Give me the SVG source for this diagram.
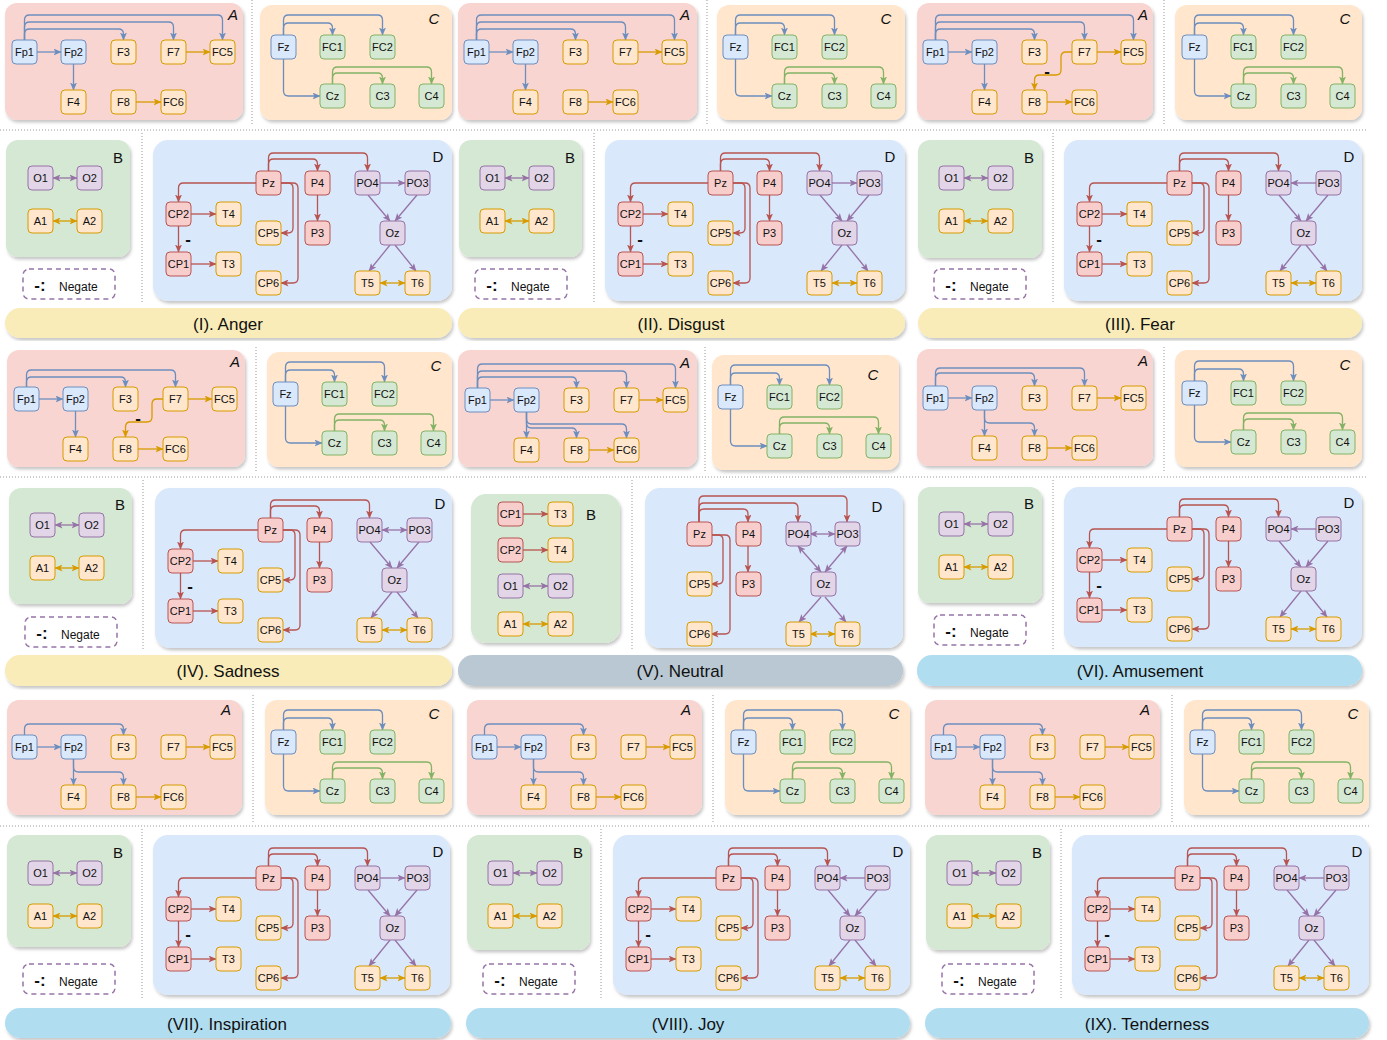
<svg xmlns="http://www.w3.org/2000/svg" width="1387" height="1040" viewBox="0 0 1387 1040">
<style>
text{font-family:"Liberation Sans",Arial,sans-serif;fill:#111}
.n text{font-size:11px;text-anchor:middle}
.n rect{stroke-width:1}
.b rect{fill:#dae8fc;stroke:#6c8ebf}
.o rect{fill:#ffe6cc;stroke:#d79b00}
.g rect{fill:#d5e8d4;stroke:#82b366}
.r rect{fill:#f8cecc;stroke:#b85450}
.p rect{fill:#e1d5e7;stroke:#9673a6}
.e path{fill:none;stroke-width:1.3}
.e .eb{stroke:#6c8ebf;marker-end:url(#mb)}
.e .eo{stroke:#d79b00;marker-end:url(#mo)}
.e .eg{stroke:#82b366;marker-end:url(#mg)}
.e .er{stroke:#b85450;marker-end:url(#mr)}
.e .ep{stroke:#9673a6;marker-end:url(#mp)}
.e .eo2{stroke:#d79b00;marker-end:url(#mo);marker-start:url(#mo)}
.e .ep2{stroke:#9673a6;marker-end:url(#mp);marker-start:url(#mp)}
.bA{fill:#f8d5d1;filter:url(#sh)}
.bB{fill:#d5e8d4;filter:url(#sh)}
.bC{fill:#ffe6cc;filter:url(#sh)}
.bD{fill:#dae8fc;filter:url(#sh)}
.sl{font-size:15px;text-anchor:middle}
.it{font-style:italic}
.ng{fill:none;stroke:#9673a6;stroke-width:1.5;stroke-dasharray:5 4}
.nl{font-size:17px;font-weight:bold;text-anchor:middle}
.nt{font-size:12px}
.sep{stroke:#999;stroke-width:1;stroke-dasharray:1 2;fill:none}
.bar rect{filter:url(#sh)}
.bar text{font-size:17px;text-anchor:middle}
.yl{fill:#f9ecb8}
.gy{fill:#bac8d3}
.bl{fill:#b1ddf0}
</style>
<defs>
<filter id="sh" x="-5%" y="-5%" width="110%" height="115%"><feDropShadow dx="1.5" dy="2.5" stdDeviation="1.5" flood-color="#000" flood-opacity="0.22"/></filter>
<marker id="mb" viewBox="0 0 8 7" refX="7.5" refY="3.5" markerWidth="8" markerHeight="7" markerUnits="userSpaceOnUse" orient="auto-start-reverse"><path d="M0,0L8,3.5L0,7L2,3.5z" fill="#6c8ebf"/></marker>
<marker id="mo" viewBox="0 0 8 7" refX="7.5" refY="3.5" markerWidth="8" markerHeight="7" markerUnits="userSpaceOnUse" orient="auto-start-reverse"><path d="M0,0L8,3.5L0,7L2,3.5z" fill="#d79b00"/></marker>
<marker id="mg" viewBox="0 0 8 7" refX="7.5" refY="3.5" markerWidth="8" markerHeight="7" markerUnits="userSpaceOnUse" orient="auto-start-reverse"><path d="M0,0L8,3.5L0,7L2,3.5z" fill="#82b366"/></marker>
<marker id="mr" viewBox="0 0 8 7" refX="7.5" refY="3.5" markerWidth="8" markerHeight="7" markerUnits="userSpaceOnUse" orient="auto-start-reverse"><path d="M0,0L8,3.5L0,7L2,3.5z" fill="#b85450"/></marker>
<marker id="mp" viewBox="0 0 8 7" refX="7.5" refY="3.5" markerWidth="8" markerHeight="7" markerUnits="userSpaceOnUse" orient="auto-start-reverse"><path d="M0,0L8,3.5L0,7L2,3.5z" fill="#9673a6"/></marker>
</defs>
<rect width="1387" height="1040" fill="#fff"/>

<g id="separators">
<path class="sep" d="M0 130H1366M252 0V126M707 0V126M1164 0V126M142 133V304M594 133V304M1053 133V304"/>
<path class="sep" d="M0 477H1366M256 347V473M705 347V473M1164 347V473M143 480V650M632 480V650M1053 480V650"/>
<path class="sep" d="M0 826H1370M253 695V822M713 695V822M1172 695V822M142 829V1000M601 829V1000M1061 829V1000"/>
</g>

<g id="bars" class="bar">
<g id="bar-I"><rect class="yl" x="5" y="308" width="447" height="30" rx="15"/><text x="228" y="330">(I). Anger</text></g>
<g id="bar-II"><rect class="yl" x="458" y="308" width="447" height="30" rx="15"/><text x="681" y="330">(II). Disgust</text></g>
<g id="bar-III"><rect class="yl" x="918" y="308" width="444" height="30" rx="15"/><text x="1140" y="330">(III). Fear</text></g>
<g id="bar-IV"><rect class="yl" x="5" y="655" width="447" height="31" rx="15"/><text x="228" y="677">(IV). Sadness</text></g>
<g id="bar-V"><rect class="gy" x="458" y="655" width="445" height="31" rx="15"/><text x="680" y="677">(V). Neutral</text></g>
<g id="bar-VI"><rect class="bl" x="917" y="655" width="445" height="31" rx="15"/><text x="1140" y="677">(VI). Amusement</text></g>
<g id="bar-VII"><rect class="bl" x="5" y="1008" width="446" height="30" rx="15"/><text x="227" y="1030">(VII). Inspiration</text></g>
<g id="bar-VIII"><rect class="bl" x="466" y="1008" width="444" height="30" rx="15"/><text x="688" y="1030">(VIII). Joy</text></g>
<g id="bar-IX"><rect class="bl" x="925" y="1008" width="444" height="30" rx="15"/><text x="1147" y="1030">(IX). Tenderness</text></g>
</g>

<!-- ================= PANEL I ================= -->
<g id="panel-I">
<g id="I-A">
<rect class="bA" x="5" y="3" width="238" height="117" rx="12"/><text class="sl it" x="233" y="20">A</text>
<g class="e" id="I-A-edges">
<path class="eb" d="M24.5 40V20Q24.5 15 29.5 15H217.5Q222.5 15 222.5 20V40"/>
<path class="eb" d="M24.5 40V27Q24.5 22 29.5 22H168.5Q173.5 22 173.5 27V40"/>
<path class="eb" d="M24.5 40V34Q24.5 29 29.5 29H118.5Q123.5 29 123.5 34V40"/>
<path class="eb" d="M37 52H61"/><path class="eb" d="M73.5 64V90"/>
<path class="eo" d="M186 52H210"/><path class="eo" d="M136 102H161"/>
</g>
<g id="I-Fp1" class="n b"><rect x="12" y="40" width="25" height="24" rx="4"/><text x="24.5" y="56">Fp1</text></g>
<g id="I-Fp2" class="n b"><rect x="61" y="40" width="25" height="24" rx="4"/><text x="73.5" y="56">Fp2</text></g>
<g id="I-F3" class="n o"><rect x="111" y="40" width="25" height="24" rx="4"/><text x="123.5" y="56">F3</text></g>
<g id="I-F7" class="n o"><rect x="161" y="40" width="25" height="24" rx="4"/><text x="173.5" y="56">F7</text></g>
<g id="I-FC5" class="n o"><rect x="210" y="40" width="25" height="24" rx="4"/><text x="222.5" y="56">FC5</text></g>
<g id="I-F4" class="n o"><rect x="61" y="90" width="25" height="24" rx="4"/><text x="73.5" y="106">F4</text></g>
<g id="I-F8" class="n o"><rect x="111" y="90" width="25" height="24" rx="4"/><text x="123.5" y="106">F8</text></g>
<g id="I-FC6" class="n o"><rect x="161" y="90" width="25" height="24" rx="4"/><text x="173.5" y="106">FC6</text></g>
</g>
<g id="I-C">
<rect class="bC" x="260" y="5" width="192" height="115" rx="12"/><text class="sl it" x="434" y="24">C</text>
<g class="e" id="I-C-edges">
<path class="eb" d="M283.5 35V20Q283.5 15 288.5 15H377.5Q382.5 15 382.5 20V35"/>
<path class="eb" d="M283.5 35V28Q283.5 23 288.5 23H327.5Q332.5 23 332.5 28V35"/>
<path class="eb" d="M283.5 59V91Q283.5 96 288.5 96H320"/>
<path class="eg" d="M332.5 84V72Q332.5 67 337.5 67H426.5Q431.5 67 431.5 72V84"/>
<path class="eg" d="M332.5 84V78Q332.5 73 337.5 73H377.5Q382.5 73 382.5 78V84"/>
</g>
<g id="I-Fz" class="n b"><rect x="271" y="35" width="25" height="24" rx="4"/><text x="283.5" y="51">Fz</text></g>
<g id="I-FC1" class="n g"><rect x="320" y="35" width="25" height="24" rx="4"/><text x="332.5" y="51">FC1</text></g>
<g id="I-FC2" class="n g"><rect x="370" y="35" width="25" height="24" rx="4"/><text x="382.5" y="51">FC2</text></g>
<g id="I-Cz" class="n g"><rect x="320" y="84" width="25" height="24" rx="4"/><text x="332.5" y="100">Cz</text></g>
<g id="I-C3" class="n g"><rect x="370" y="84" width="25" height="24" rx="4"/><text x="382.5" y="100">C3</text></g>
<g id="I-C4" class="n g"><rect x="419" y="84" width="25" height="24" rx="4"/><text x="431.5" y="100">C4</text></g>
</g>
<g id="I-B">
<rect class="bB" x="6" y="140" width="124" height="117" rx="12"/><text class="sl" x="118" y="163">B</text>
<g class="e" id="I-B-edges"><path class="ep2" d="M53 178H77"/><path class="eo2" d="M53 221H77"/></g>
<g id="I-O1" class="n p"><rect x="28" y="166" width="25" height="24" rx="4"/><text x="40.5" y="182">O1</text></g>
<g id="I-O2" class="n p"><rect x="77" y="166" width="25" height="24" rx="4"/><text x="89.5" y="182">O2</text></g>
<g id="I-A1" class="n o"><rect x="28" y="209" width="25" height="24" rx="4"/><text x="40.5" y="225">A1</text></g>
<g id="I-A2" class="n o"><rect x="77" y="209" width="25" height="24" rx="4"/><text x="89.5" y="225">A2</text></g>
<g id="I-legend"><rect class="ng" x="23" y="269" width="92" height="30" rx="6"/><text class="nl" x="40" y="291">-:</text><text class="nt" x="59" y="291">Negate</text></g>
</g>
<g id="I-D">
<rect class="bD" x="153" y="140" width="299" height="161" rx="15"/><text class="sl" x="438" y="162">D</text>
<g class="e" id="I-D-edges">
<path class="er" d="M268.5 171V158Q268.5 153 273.5 153H362.5Q367.5 153 367.5 158V171"/>
<path class="er" d="M268.5 171V164Q268.5 159 273.5 159H312.5Q317.5 159 317.5 164V171"/>
<path class="er" d="M256 183H183.5Q178.5 183 178.5 188V202"/>
<path class="er" d="M281 183H288Q293 183 293 188V228Q293 233 288 233H281"/>
<path class="er" d="M281 183H293Q298 183 298 188V278Q298 283 293 283H281"/>
<path class="er" d="M317.5 195V221"/><path class="er" d="M191 214H216"/><path class="er" d="M178.5 226V252"/><path class="er" d="M191 264H216"/>
<path class="ep" d="M380 183H405"/><path class="ep" d="M368 195L390 221"/><path class="ep" d="M417 195L395 221"/><path class="ep" d="M390 245L369 271"/><path class="ep" d="M395 245L416 271"/>
<path class="eo2" d="M380 283H405"/>
<text class="nl" x="188" y="245">-</text>
</g>
<g id="I-Pz" class="n r"><rect x="256" y="171" width="25" height="24" rx="4"/><text x="268.5" y="187">Pz</text></g>
<g id="I-P4" class="n r"><rect x="305" y="171" width="25" height="24" rx="4"/><text x="317.5" y="187">P4</text></g>
<g id="I-PO4" class="n p"><rect x="355" y="171" width="25" height="24" rx="4"/><text x="367.5" y="187">PO4</text></g>
<g id="I-PO3" class="n p"><rect x="405" y="171" width="25" height="24" rx="4"/><text x="417.5" y="187">PO3</text></g>
<g id="I-CP2" class="n r"><rect x="166" y="202" width="25" height="24" rx="4"/><text x="178.5" y="218">CP2</text></g>
<g id="I-T4" class="n o"><rect x="216" y="202" width="25" height="24" rx="4"/><text x="228.5" y="218">T4</text></g>
<g id="I-CP5" class="n o"><rect x="256" y="221" width="25" height="24" rx="4"/><text x="268.5" y="237">CP5</text></g>
<g id="I-P3" class="n r"><rect x="305" y="221" width="25" height="24" rx="4"/><text x="317.5" y="237">P3</text></g>
<g id="I-Oz" class="n p"><rect x="380" y="221" width="25" height="24" rx="4"/><text x="392.5" y="237">Oz</text></g>
<g id="I-CP1" class="n r"><rect x="166" y="252" width="25" height="24" rx="4"/><text x="178.5" y="268">CP1</text></g>
<g id="I-T3" class="n o"><rect x="216" y="252" width="25" height="24" rx="4"/><text x="228.5" y="268">T3</text></g>
<g id="I-CP6" class="n o"><rect x="256" y="271" width="25" height="24" rx="4"/><text x="268.5" y="287">CP6</text></g>
<g id="I-T5" class="n o"><rect x="355" y="271" width="25" height="24" rx="4"/><text x="367.5" y="287">T5</text></g>
<g id="I-T6" class="n o"><rect x="405" y="271" width="25" height="24" rx="4"/><text x="417.5" y="287">T6</text></g>
</g>
</g>

<!-- ================= PANEL II ================= -->
<g id="panel-II" transform="translate(452,0)">
<g id="II-A">
<rect class="bA" x="6" y="3" width="239" height="117" rx="12"/><text class="sl it" x="233" y="20">A</text>
<g class="e" id="II-A-edges">
<path class="eb" d="M24.5 40V20Q24.5 15 29.5 15H217.5Q222.5 15 222.5 20V40"/>
<path class="eb" d="M24.5 40V27Q24.5 22 29.5 22H168.5Q173.5 22 173.5 27V40"/>
<path class="eb" d="M24.5 40V34Q24.5 29 29.5 29H118.5Q123.5 29 123.5 34V40"/>
<path class="eb" d="M37 52H61"/><path class="eb" d="M73.5 64V90"/>
<path class="eo" d="M186 52H210"/><path class="eo" d="M136 102H161"/>
</g>
<g id="II-Fp1" class="n b"><rect x="12" y="40" width="25" height="24" rx="4"/><text x="24.5" y="56">Fp1</text></g>
<g id="II-Fp2" class="n b"><rect x="61" y="40" width="25" height="24" rx="4"/><text x="73.5" y="56">Fp2</text></g>
<g id="II-F3" class="n o"><rect x="111" y="40" width="25" height="24" rx="4"/><text x="123.5" y="56">F3</text></g>
<g id="II-F7" class="n o"><rect x="161" y="40" width="25" height="24" rx="4"/><text x="173.5" y="56">F7</text></g>
<g id="II-FC5" class="n o"><rect x="210" y="40" width="25" height="24" rx="4"/><text x="222.5" y="56">FC5</text></g>
<g id="II-F4" class="n o"><rect x="61" y="90" width="25" height="24" rx="4"/><text x="73.5" y="106">F4</text></g>
<g id="II-F8" class="n o"><rect x="111" y="90" width="25" height="24" rx="4"/><text x="123.5" y="106">F8</text></g>
<g id="II-FC6" class="n o"><rect x="161" y="90" width="25" height="24" rx="4"/><text x="173.5" y="106">FC6</text></g>
</g>
<g id="II-C">
<rect class="bC" x="265" y="5" width="188" height="115" rx="12"/><text class="sl it" x="434" y="24">C</text>
<g class="e" id="II-C-edges">
<path class="eb" d="M283.5 35V20Q283.5 15 288.5 15H377.5Q382.5 15 382.5 20V35"/>
<path class="eb" d="M283.5 35V28Q283.5 23 288.5 23H327.5Q332.5 23 332.5 28V35"/>
<path class="eb" d="M283.5 59V91Q283.5 96 288.5 96H320"/>
<path class="eg" d="M332.5 84V72Q332.5 67 337.5 67H426.5Q431.5 67 431.5 72V84"/>
<path class="eg" d="M332.5 84V78Q332.5 73 337.5 73H377.5Q382.5 73 382.5 78V84"/>
</g>
<g id="II-Fz" class="n b"><rect x="271" y="35" width="25" height="24" rx="4"/><text x="283.5" y="51">Fz</text></g>
<g id="II-FC1" class="n g"><rect x="320" y="35" width="25" height="24" rx="4"/><text x="332.5" y="51">FC1</text></g>
<g id="II-FC2" class="n g"><rect x="370" y="35" width="25" height="24" rx="4"/><text x="382.5" y="51">FC2</text></g>
<g id="II-Cz" class="n g"><rect x="320" y="84" width="25" height="24" rx="4"/><text x="332.5" y="100">Cz</text></g>
<g id="II-C3" class="n g"><rect x="370" y="84" width="25" height="24" rx="4"/><text x="382.5" y="100">C3</text></g>
<g id="II-C4" class="n g"><rect x="419" y="84" width="25" height="24" rx="4"/><text x="431.5" y="100">C4</text></g>
</g>
<g id="II-B">
<rect class="bB" x="7" y="140" width="123" height="117" rx="12"/><text class="sl" x="118" y="163">B</text>
<g class="e" id="II-B-edges"><path class="ep2" d="M53 178H77"/><path class="eo2" d="M53 221H77"/></g>
<g id="II-O1" class="n p"><rect x="28" y="166" width="25" height="24" rx="4"/><text x="40.5" y="182">O1</text></g>
<g id="II-O2" class="n p"><rect x="77" y="166" width="25" height="24" rx="4"/><text x="89.5" y="182">O2</text></g>
<g id="II-A1" class="n o"><rect x="28" y="209" width="25" height="24" rx="4"/><text x="40.5" y="225">A1</text></g>
<g id="II-A2" class="n o"><rect x="77" y="209" width="25" height="24" rx="4"/><text x="89.5" y="225">A2</text></g>
<g id="II-legend"><rect class="ng" x="23" y="269" width="92" height="30" rx="6"/><text class="nl" x="40" y="291">-:</text><text class="nt" x="59" y="291">Negate</text></g>
</g>
<g id="II-D">
<rect class="bD" x="153" y="140" width="300" height="161" rx="15"/><text class="sl" x="438" y="162">D</text>
<g class="e" id="II-D-edges">
<path class="er" d="M268.5 171V158Q268.5 153 273.5 153H362.5Q367.5 153 367.5 158V171"/>
<path class="er" d="M268.5 171V164Q268.5 159 273.5 159H312.5Q317.5 159 317.5 164V171"/>
<path class="er" d="M256 183H183.5Q178.5 183 178.5 188V202"/>
<path class="er" d="M281 183H288Q293 183 293 188V228Q293 233 288 233H281"/>
<path class="er" d="M281 183H293Q298 183 298 188V278Q298 283 293 283H281"/>
<path class="er" d="M317.5 195V221"/><path class="er" d="M191 214H216"/><path class="er" d="M178.5 226V252"/><path class="er" d="M191 264H216"/>
<path class="ep" d="M380 183H405"/><path class="ep" d="M368 195L390 221"/><path class="ep" d="M417 195L395 221"/><path class="ep" d="M390 245L369 271"/><path class="ep" d="M395 245L416 271"/>
<path class="eo2" d="M380 283H405"/>
<text class="nl" x="188" y="245">-</text>
</g>
<g id="II-Pz" class="n r"><rect x="256" y="171" width="25" height="24" rx="4"/><text x="268.5" y="187">Pz</text></g>
<g id="II-P4" class="n r"><rect x="305" y="171" width="25" height="24" rx="4"/><text x="317.5" y="187">P4</text></g>
<g id="II-PO4" class="n p"><rect x="355" y="171" width="25" height="24" rx="4"/><text x="367.5" y="187">PO4</text></g>
<g id="II-PO3" class="n p"><rect x="405" y="171" width="25" height="24" rx="4"/><text x="417.5" y="187">PO3</text></g>
<g id="II-CP2" class="n r"><rect x="166" y="202" width="25" height="24" rx="4"/><text x="178.5" y="218">CP2</text></g>
<g id="II-T4" class="n o"><rect x="216" y="202" width="25" height="24" rx="4"/><text x="228.5" y="218">T4</text></g>
<g id="II-CP5" class="n o"><rect x="256" y="221" width="25" height="24" rx="4"/><text x="268.5" y="237">CP5</text></g>
<g id="II-P3" class="n r"><rect x="305" y="221" width="25" height="24" rx="4"/><text x="317.5" y="237">P3</text></g>
<g id="II-Oz" class="n p"><rect x="380" y="221" width="25" height="24" rx="4"/><text x="392.5" y="237">Oz</text></g>
<g id="II-CP1" class="n r"><rect x="166" y="252" width="25" height="24" rx="4"/><text x="178.5" y="268">CP1</text></g>
<g id="II-T3" class="n o"><rect x="216" y="252" width="25" height="24" rx="4"/><text x="228.5" y="268">T3</text></g>
<g id="II-CP6" class="n o"><rect x="256" y="271" width="25" height="24" rx="4"/><text x="268.5" y="287">CP6</text></g>
<g id="II-T5" class="n o"><rect x="355" y="271" width="25" height="24" rx="4"/><text x="367.5" y="287">T5</text></g>
<g id="II-T6" class="n o"><rect x="405" y="271" width="25" height="24" rx="4"/><text x="417.5" y="287">T6</text></g>
</g>
</g>

<!-- ================= PANEL III ================= -->
<g id="panel-III" transform="translate(911,0)">
<g id="III-A">
<rect class="bA" x="6" y="3" width="236" height="117" rx="12"/><text class="sl it" x="232" y="20">A</text>
<g class="e" id="III-A-edges">
<path class="eb" d="M24.5 40V20Q24.5 15 29.5 15H217.5Q222.5 15 222.5 20V40"/>
<path class="eb" d="M24.5 40V27Q24.5 22 29.5 22H168.5Q173.5 22 173.5 27V40"/>
<path class="eb" d="M24.5 40V34Q24.5 29 29.5 29H118.5Q123.5 29 123.5 34V40"/>
<path class="eb" d="M37 52H61"/><path class="eb" d="M73.5 64V90"/>
<path class="eo" d="M186 52H210"/><path class="eo" d="M136 102H161"/>
<path class="eo" d="M161 52H155Q150 52 150 57V70Q150 75 145 75H128.5Q123.5 75 123.5 80V90"/>
<text class="nl" x="136" y="77">-</text>
</g>
<g id="III-Fp1" class="n b"><rect x="12" y="40" width="25" height="24" rx="4"/><text x="24.5" y="56">Fp1</text></g>
<g id="III-Fp2" class="n b"><rect x="61" y="40" width="25" height="24" rx="4"/><text x="73.5" y="56">Fp2</text></g>
<g id="III-F3" class="n o"><rect x="111" y="40" width="25" height="24" rx="4"/><text x="123.5" y="56">F3</text></g>
<g id="III-F7" class="n o"><rect x="161" y="40" width="25" height="24" rx="4"/><text x="173.5" y="56">F7</text></g>
<g id="III-FC5" class="n o"><rect x="210" y="40" width="25" height="24" rx="4"/><text x="222.5" y="56">FC5</text></g>
<g id="III-F4" class="n o"><rect x="61" y="90" width="25" height="24" rx="4"/><text x="73.5" y="106">F4</text></g>
<g id="III-F8" class="n o"><rect x="111" y="90" width="25" height="24" rx="4"/><text x="123.5" y="106">F8</text></g>
<g id="III-FC6" class="n o"><rect x="161" y="90" width="25" height="24" rx="4"/><text x="173.5" y="106">FC6</text></g>
</g>
<g id="III-C">
<rect class="bC" x="264" y="5" width="187" height="115" rx="12"/><text class="sl it" x="434" y="24">C</text>
<g class="e" id="III-C-edges">
<path class="eb" d="M283.5 35V20Q283.5 15 288.5 15H377.5Q382.5 15 382.5 20V35"/>
<path class="eb" d="M283.5 35V28Q283.5 23 288.5 23H327.5Q332.5 23 332.5 28V35"/>
<path class="eb" d="M283.5 59V91Q283.5 96 288.5 96H320"/>
<path class="eg" d="M332.5 84V72Q332.5 67 337.5 67H426.5Q431.5 67 431.5 72V84"/>
<path class="eg" d="M332.5 84V78Q332.5 73 337.5 73H377.5Q382.5 73 382.5 78V84"/>
</g>
<g id="III-Fz" class="n b"><rect x="271" y="35" width="25" height="24" rx="4"/><text x="283.5" y="51">Fz</text></g>
<g id="III-FC1" class="n g"><rect x="320" y="35" width="25" height="24" rx="4"/><text x="332.5" y="51">FC1</text></g>
<g id="III-FC2" class="n g"><rect x="370" y="35" width="25" height="24" rx="4"/><text x="382.5" y="51">FC2</text></g>
<g id="III-Cz" class="n g"><rect x="320" y="84" width="25" height="24" rx="4"/><text x="332.5" y="100">Cz</text></g>
<g id="III-C3" class="n g"><rect x="370" y="84" width="25" height="24" rx="4"/><text x="382.5" y="100">C3</text></g>
<g id="III-C4" class="n g"><rect x="419" y="84" width="25" height="24" rx="4"/><text x="431.5" y="100">C4</text></g>
</g>
<g id="III-B">
<rect class="bB" x="7" y="140" width="124" height="118" rx="12"/><text class="sl" x="118" y="163">B</text>
<g class="e" id="III-B-edges"><path class="ep2" d="M53 178H77"/><path class="eo2" d="M53 221H77"/></g>
<g id="III-O1" class="n p"><rect x="28" y="166" width="25" height="24" rx="4"/><text x="40.5" y="182">O1</text></g>
<g id="III-O2" class="n p"><rect x="77" y="166" width="25" height="24" rx="4"/><text x="89.5" y="182">O2</text></g>
<g id="III-A1" class="n o"><rect x="28" y="209" width="25" height="24" rx="4"/><text x="40.5" y="225">A1</text></g>
<g id="III-A2" class="n o"><rect x="77" y="209" width="25" height="24" rx="4"/><text x="89.5" y="225">A2</text></g>
<g id="III-legend"><rect class="ng" x="23" y="269" width="92" height="30" rx="6"/><text class="nl" x="40" y="291">-:</text><text class="nt" x="59" y="291">Negate</text></g>
</g>
<g id="III-D">
<rect class="bD" x="153" y="140" width="298" height="161" rx="15"/><text class="sl" x="438" y="162">D</text>
<g class="e" id="III-D-edges">
<path class="er" d="M268.5 171V158Q268.5 153 273.5 153H362.5Q367.5 153 367.5 158V171"/>
<path class="er" d="M268.5 171V164Q268.5 159 273.5 159H312.5Q317.5 159 317.5 164V171"/>
<path class="er" d="M256 183H183.5Q178.5 183 178.5 188V202"/>
<path class="er" d="M281 183H288Q293 183 293 188V228Q293 233 288 233H281"/>
<path class="er" d="M281 183H293Q298 183 298 188V278Q298 283 293 283H281"/>
<path class="er" d="M317.5 195V221"/><path class="er" d="M191 214H216"/><path class="er" d="M178.5 226V252"/><path class="er" d="M191 264H216"/>
<path class="ep" d="M405 183H380"/><path class="ep" d="M368 195L390 221"/><path class="ep" d="M417 195L395 221"/><path class="ep" d="M390 245L369 271"/><path class="ep" d="M395 245L416 271"/>
<path class="eo2" d="M380 283H405"/>
<text class="nl" x="188" y="245">-</text>
</g>
<g id="III-Pz" class="n r"><rect x="256" y="171" width="25" height="24" rx="4"/><text x="268.5" y="187">Pz</text></g>
<g id="III-P4" class="n r"><rect x="305" y="171" width="25" height="24" rx="4"/><text x="317.5" y="187">P4</text></g>
<g id="III-PO4" class="n p"><rect x="355" y="171" width="25" height="24" rx="4"/><text x="367.5" y="187">PO4</text></g>
<g id="III-PO3" class="n p"><rect x="405" y="171" width="25" height="24" rx="4"/><text x="417.5" y="187">PO3</text></g>
<g id="III-CP2" class="n r"><rect x="166" y="202" width="25" height="24" rx="4"/><text x="178.5" y="218">CP2</text></g>
<g id="III-T4" class="n o"><rect x="216" y="202" width="25" height="24" rx="4"/><text x="228.5" y="218">T4</text></g>
<g id="III-CP5" class="n o"><rect x="256" y="221" width="25" height="24" rx="4"/><text x="268.5" y="237">CP5</text></g>
<g id="III-P3" class="n r"><rect x="305" y="221" width="25" height="24" rx="4"/><text x="317.5" y="237">P3</text></g>
<g id="III-Oz" class="n p"><rect x="380" y="221" width="25" height="24" rx="4"/><text x="392.5" y="237">Oz</text></g>
<g id="III-CP1" class="n r"><rect x="166" y="252" width="25" height="24" rx="4"/><text x="178.5" y="268">CP1</text></g>
<g id="III-T3" class="n o"><rect x="216" y="252" width="25" height="24" rx="4"/><text x="228.5" y="268">T3</text></g>
<g id="III-CP6" class="n o"><rect x="256" y="271" width="25" height="24" rx="4"/><text x="268.5" y="287">CP6</text></g>
<g id="III-T5" class="n o"><rect x="355" y="271" width="25" height="24" rx="4"/><text x="367.5" y="287">T5</text></g>
<g id="III-T6" class="n o"><rect x="405" y="271" width="25" height="24" rx="4"/><text x="417.5" y="287">T6</text></g>
</g>
</g>

<!-- ================= PANEL IV ================= -->
<g id="panel-IV" transform="translate(2,347)">
<g id="IV-A">
<rect class="bA" x="5" y="3" width="238" height="117" rx="12"/><text class="sl it" x="233" y="20">A</text>
<g class="e" id="IV-A-edges">
<path class="eb" d="M24.5 40V28Q24.5 23 29.5 23H168.5Q173.5 23 173.5 28V40"/>
<path class="eb" d="M24.5 40V35Q24.5 30 29.5 30H118.5Q123.5 30 123.5 35V40"/>
<path class="eb" d="M37 52H61"/><path class="eb" d="M73.5 64V90"/>
<path class="eo" d="M186 52H210"/><path class="eo" d="M136 102H161"/>
<path class="eo" d="M161 52H155Q150 52 150 57V70Q150 75 145 75H128.5Q123.5 75 123.5 80V90"/>
<text class="nl" x="136" y="77">-</text>
</g>
<g id="IV-Fp1" class="n b"><rect x="12" y="40" width="25" height="24" rx="4"/><text x="24.5" y="56">Fp1</text></g>
<g id="IV-Fp2" class="n b"><rect x="61" y="40" width="25" height="24" rx="4"/><text x="73.5" y="56">Fp2</text></g>
<g id="IV-F3" class="n o"><rect x="111" y="40" width="25" height="24" rx="4"/><text x="123.5" y="56">F3</text></g>
<g id="IV-F7" class="n o"><rect x="161" y="40" width="25" height="24" rx="4"/><text x="173.5" y="56">F7</text></g>
<g id="IV-FC5" class="n o"><rect x="210" y="40" width="25" height="24" rx="4"/><text x="222.5" y="56">FC5</text></g>
<g id="IV-F4" class="n o"><rect x="61" y="90" width="25" height="24" rx="4"/><text x="73.5" y="106">F4</text></g>
<g id="IV-F8" class="n o"><rect x="111" y="90" width="25" height="24" rx="4"/><text x="123.5" y="106">F8</text></g>
<g id="IV-FC6" class="n o"><rect x="161" y="90" width="25" height="24" rx="4"/><text x="173.5" y="106">FC6</text></g>
</g>
<g id="IV-C">
<rect class="bC" x="265" y="5" width="185" height="115" rx="12"/><text class="sl it" x="434" y="24">C</text>
<g class="e" id="IV-C-edges">
<path class="eb" d="M283.5 35V20Q283.5 15 288.5 15H377.5Q382.5 15 382.5 20V35"/>
<path class="eb" d="M283.5 35V28Q283.5 23 288.5 23H327.5Q332.5 23 332.5 28V35"/>
<path class="eb" d="M283.5 59V91Q283.5 96 288.5 96H320"/>
<path class="eg" d="M332.5 84V72Q332.5 67 337.5 67H426.5Q431.5 67 431.5 72V84"/>
<path class="eg" d="M332.5 84V78Q332.5 73 337.5 73H377.5Q382.5 73 382.5 78V84"/>
</g>
<g id="IV-Fz" class="n b"><rect x="271" y="35" width="25" height="24" rx="4"/><text x="283.5" y="51">Fz</text></g>
<g id="IV-FC1" class="n g"><rect x="320" y="35" width="25" height="24" rx="4"/><text x="332.5" y="51">FC1</text></g>
<g id="IV-FC2" class="n g"><rect x="370" y="35" width="25" height="24" rx="4"/><text x="382.5" y="51">FC2</text></g>
<g id="IV-Cz" class="n g"><rect x="320" y="84" width="25" height="24" rx="4"/><text x="332.5" y="100">Cz</text></g>
<g id="IV-C3" class="n g"><rect x="370" y="84" width="25" height="24" rx="4"/><text x="382.5" y="100">C3</text></g>
<g id="IV-C4" class="n g"><rect x="419" y="84" width="25" height="24" rx="4"/><text x="431.5" y="100">C4</text></g>
</g>
<g id="IV-B">
<rect class="bB" x="7" y="141" width="123" height="116" rx="12"/><text class="sl" x="118" y="163">B</text>
<g class="e" id="IV-B-edges"><path class="ep2" d="M53 178H77"/><path class="eo2" d="M53 221H77"/></g>
<g id="IV-O1" class="n p"><rect x="28" y="166" width="25" height="24" rx="4"/><text x="40.5" y="182">O1</text></g>
<g id="IV-O2" class="n p"><rect x="77" y="166" width="25" height="24" rx="4"/><text x="89.5" y="182">O2</text></g>
<g id="IV-A1" class="n o"><rect x="28" y="209" width="25" height="24" rx="4"/><text x="40.5" y="225">A1</text></g>
<g id="IV-A2" class="n o"><rect x="77" y="209" width="25" height="24" rx="4"/><text x="89.5" y="225">A2</text></g>
<g id="IV-legend"><rect class="ng" x="23" y="270" width="92" height="30" rx="6"/><text class="nl" x="40" y="292">-:</text><text class="nt" x="59" y="292">Negate</text></g>
</g>
<g id="IV-D">
<rect class="bD" x="153" y="141" width="297" height="160" rx="15"/><text class="sl" x="438" y="162">D</text>
<g class="e" id="IV-D-edges">
<path class="er" d="M268.5 171V158Q268.5 153 273.5 153H362.5Q367.5 153 367.5 158V171"/>
<path class="er" d="M268.5 171V164Q268.5 159 273.5 159H312.5Q317.5 159 317.5 164V171"/>
<path class="er" d="M256 183H183.5Q178.5 183 178.5 188V202"/>
<path class="er" d="M281 183H288Q293 183 293 188V228Q293 233 288 233H281"/>
<path class="er" d="M281 183H293Q298 183 298 188V278Q298 283 293 283H281"/>
<path class="er" d="M317.5 195V221"/><path class="er" d="M191 214H216"/><path class="er" d="M178.5 226V252"/><path class="er" d="M191 264H216"/>
<path class="ep2" d="M380 183H405"/><path class="ep" d="M368 195L390 221"/><path class="ep" d="M417 195L395 221"/><path class="ep" d="M390 245L369 271"/><path class="ep" d="M395 245L416 271"/>
<path class="eo2" d="M380 283H405"/>
<text class="nl" x="188" y="245">-</text>
</g>
<g id="IV-Pz" class="n r"><rect x="256" y="171" width="25" height="24" rx="4"/><text x="268.5" y="187">Pz</text></g>
<g id="IV-P4" class="n r"><rect x="305" y="171" width="25" height="24" rx="4"/><text x="317.5" y="187">P4</text></g>
<g id="IV-PO4" class="n p"><rect x="355" y="171" width="25" height="24" rx="4"/><text x="367.5" y="187">PO4</text></g>
<g id="IV-PO3" class="n p"><rect x="405" y="171" width="25" height="24" rx="4"/><text x="417.5" y="187">PO3</text></g>
<g id="IV-CP2" class="n r"><rect x="166" y="202" width="25" height="24" rx="4"/><text x="178.5" y="218">CP2</text></g>
<g id="IV-T4" class="n o"><rect x="216" y="202" width="25" height="24" rx="4"/><text x="228.5" y="218">T4</text></g>
<g id="IV-CP5" class="n o"><rect x="256" y="221" width="25" height="24" rx="4"/><text x="268.5" y="237">CP5</text></g>
<g id="IV-P3" class="n r"><rect x="305" y="221" width="25" height="24" rx="4"/><text x="317.5" y="237">P3</text></g>
<g id="IV-Oz" class="n p"><rect x="380" y="221" width="25" height="24" rx="4"/><text x="392.5" y="237">Oz</text></g>
<g id="IV-CP1" class="n r"><rect x="166" y="252" width="25" height="24" rx="4"/><text x="178.5" y="268">CP1</text></g>
<g id="IV-T3" class="n o"><rect x="216" y="252" width="25" height="24" rx="4"/><text x="228.5" y="268">T3</text></g>
<g id="IV-CP6" class="n o"><rect x="256" y="271" width="25" height="24" rx="4"/><text x="268.5" y="287">CP6</text></g>
<g id="IV-T5" class="n o"><rect x="355" y="271" width="25" height="24" rx="4"/><text x="367.5" y="287">T5</text></g>
<g id="IV-T6" class="n o"><rect x="405" y="271" width="25" height="24" rx="4"/><text x="417.5" y="287">T6</text></g>
</g>
</g>

<!-- ================= PANEL V ================= -->
<g id="panel-V">
<g id="V-A" transform="translate(453,348)">
<rect class="bA" x="5" y="2" width="239" height="117" rx="12"/><text class="sl it" x="232" y="20">A</text>
<g class="e" id="V-A-edges">
<path class="eb" d="M24.5 40V21Q24.5 16 29.5 16H217.5Q222.5 16 222.5 21V40"/>
<path class="eb" d="M24.5 40V28Q24.5 23 29.5 23H168.5Q173.5 23 173.5 28V40"/>
<path class="eb" d="M24.5 40V34Q24.5 29 29.5 29H118.5Q123.5 29 123.5 34V40"/>
<path class="eb" d="M37 52H61"/><path class="eb" d="M73.5 64V90"/>
<path class="eb" d="M73.5 64V71Q73.5 76 78.5 76H168.5Q173.5 76 173.5 81V90"/>
<path class="eb" d="M73.5 64V75Q73.5 80 78.5 80H118.5Q123.5 80 123.5 85V90"/>
<path class="eo" d="M186 52H210"/><path class="eo" d="M136 102H161"/>
</g>
<g id="V-Fp1" class="n b"><rect x="12" y="40" width="25" height="24" rx="4"/><text x="24.5" y="56">Fp1</text></g>
<g id="V-Fp2" class="n b"><rect x="61" y="40" width="25" height="24" rx="4"/><text x="73.5" y="56">Fp2</text></g>
<g id="V-F3" class="n o"><rect x="111" y="40" width="25" height="24" rx="4"/><text x="123.5" y="56">F3</text></g>
<g id="V-F7" class="n o"><rect x="161" y="40" width="25" height="24" rx="4"/><text x="173.5" y="56">F7</text></g>
<g id="V-FC5" class="n o"><rect x="210" y="40" width="25" height="24" rx="4"/><text x="222.5" y="56">FC5</text></g>
<g id="V-F4" class="n o"><rect x="61" y="90" width="25" height="24" rx="4"/><text x="73.5" y="106">F4</text></g>
<g id="V-F8" class="n o"><rect x="111" y="90" width="25" height="24" rx="4"/><text x="123.5" y="106">F8</text></g>
<g id="V-FC6" class="n o"><rect x="161" y="90" width="25" height="24" rx="4"/><text x="173.5" y="106">FC6</text></g>
</g>
<g id="V-C" transform="translate(447,350)">
<rect class="bC" x="265" y="5" width="187" height="115" rx="12"/><text class="sl it" x="426" y="30">C</text>
<g class="e" id="V-C-edges">
<path class="eb" d="M283.5 35V20Q283.5 15 288.5 15H377.5Q382.5 15 382.5 20V35"/>
<path class="eb" d="M283.5 35V28Q283.5 23 288.5 23H327.5Q332.5 23 332.5 28V35"/>
<path class="eb" d="M283.5 59V91Q283.5 96 288.5 96H320"/>
<path class="eg" d="M332.5 84V72Q332.5 67 337.5 67H426.5Q431.5 67 431.5 72V84"/>
<path class="eg" d="M332.5 84V78Q332.5 73 337.5 73H377.5Q382.5 73 382.5 78V84"/>
</g>
<g id="V-Fz" class="n b"><rect x="271" y="35" width="25" height="24" rx="4"/><text x="283.5" y="51">Fz</text></g>
<g id="V-FC1" class="n g"><rect x="320" y="35" width="25" height="24" rx="4"/><text x="332.5" y="51">FC1</text></g>
<g id="V-FC2" class="n g"><rect x="370" y="35" width="25" height="24" rx="4"/><text x="382.5" y="51">FC2</text></g>
<g id="V-Cz" class="n g"><rect x="320" y="84" width="25" height="24" rx="4"/><text x="332.5" y="100">Cz</text></g>
<g id="V-C3" class="n g"><rect x="370" y="84" width="25" height="24" rx="4"/><text x="382.5" y="100">C3</text></g>
<g id="V-C4" class="n g"><rect x="419" y="84" width="25" height="24" rx="4"/><text x="431.5" y="100">C4</text></g>
</g>
<g id="V-B">
<rect class="bB" x="471" y="494" width="149" height="149" rx="15"/><text class="sl" x="591" y="520">B</text>
<g class="e" id="V-B-edges">
<path class="er" d="M523 514H548"/><path class="er" d="M523 550H548"/><path class="ep2" d="M523 586H548"/><path class="eo2" d="M523 624H548"/>
</g>
<g id="V-CP1" class="n r"><rect x="498" y="502" width="25" height="24" rx="4"/><text x="510.5" y="518">CP1</text></g>
<g id="V-T3" class="n o"><rect x="548" y="502" width="25" height="24" rx="4"/><text x="560.5" y="518">T3</text></g>
<g id="V-CP2" class="n r"><rect x="498" y="538" width="25" height="24" rx="4"/><text x="510.5" y="554">CP2</text></g>
<g id="V-T4" class="n o"><rect x="548" y="538" width="25" height="24" rx="4"/><text x="560.5" y="554">T4</text></g>
<g id="V-O1" class="n p"><rect x="498" y="574" width="25" height="24" rx="4"/><text x="510.5" y="590">O1</text></g>
<g id="V-O2" class="n p"><rect x="548" y="574" width="25" height="24" rx="4"/><text x="560.5" y="590">O2</text></g>
<g id="V-A1" class="n o"><rect x="498" y="612" width="25" height="24" rx="4"/><text x="510.5" y="628">A1</text></g>
<g id="V-A2" class="n o"><rect x="548" y="612" width="25" height="24" rx="4"/><text x="560.5" y="628">A2</text></g>
</g>
<g id="V-D">
<rect class="bD" x="645" y="488" width="258" height="160" rx="15"/><text class="sl" x="877" y="512">D</text>
<g class="e" id="V-D-edges">
<path class="er" d="M699 522V501Q699 496 704 496H842Q847 496 847 501V522"/>
<path class="er" d="M699 522V508Q699 503 704 503H793Q798 503 798 508V522"/>
<path class="er" d="M699 522V514Q699 509 704 509H743Q748 509 748 514V522"/>
<path class="er" d="M711 535H718Q723 535 723 540V579Q723 584 718 584H711"/>
<path class="er" d="M711 535H725Q730 535 730 540V629Q730 634 725 634H711"/>
<path class="er" d="M748 546V572"/>
<path class="ep2" d="M810 534H835"/><path class="ep2" d="M798 546L821 572"/><path class="ep2" d="M847 546L825 572"/>
<path class="ep" d="M821 597L799 622"/><path class="ep" d="M825 597L846 622"/>
<path class="eo2" d="M810 634H835"/>
</g>
<g id="V-Pz" class="n r"><rect x="687" y="522" width="25" height="24" rx="4"/><text x="699.5" y="538">Pz</text></g>
<g id="V-P4" class="n r"><rect x="736" y="522" width="25" height="24" rx="4"/><text x="748.5" y="538">P4</text></g>
<g id="V-PO4" class="n p"><rect x="786" y="522" width="25" height="24" rx="4"/><text x="798.5" y="538">PO4</text></g>
<g id="V-PO3" class="n p"><rect x="835" y="522" width="25" height="24" rx="4"/><text x="847.5" y="538">PO3</text></g>
<g id="V-CP5" class="n o"><rect x="687" y="572" width="25" height="24" rx="4"/><text x="699.5" y="588">CP5</text></g>
<g id="V-P3" class="n r"><rect x="736" y="572" width="25" height="24" rx="4"/><text x="748.5" y="588">P3</text></g>
<g id="V-Oz" class="n p"><rect x="811" y="572" width="25" height="24" rx="4"/><text x="823.5" y="588">Oz</text></g>
<g id="V-CP6" class="n o"><rect x="687" y="622" width="25" height="24" rx="4"/><text x="699.5" y="638">CP6</text></g>
<g id="V-T5" class="n o"><rect x="786" y="622" width="25" height="24" rx="4"/><text x="798.5" y="638">T5</text></g>
<g id="V-T6" class="n o"><rect x="835" y="622" width="25" height="24" rx="4"/><text x="847.5" y="638">T6</text></g>
</g>
</g>

<!-- ================= PANEL VI ================= -->
<g id="panel-VI" transform="translate(911,346)">
<g id="VI-A">
<rect class="bA" x="6" y="3" width="236" height="117" rx="12"/><text class="sl it" x="232" y="20">A</text>
<g class="e" id="VI-A-edges">
<path class="eb" d="M24.5 40V27Q24.5 22 29.5 22H168.5Q173.5 22 173.5 27V40"/>
<path class="eb" d="M24.5 40V32Q24.5 27 29.5 27H118.5Q123.5 27 123.5 32V40"/>
<path class="eb" d="M37 52H61"/><path class="eb" d="M73.5 64V90"/>
<path class="eb" d="M73.5 64V72Q73.5 77 78.5 77H118.5Q123.5 77 123.5 82V90"/>
<path class="eo" d="M186 52H210"/><path class="eo" d="M136 102H161"/>
</g>
<g id="VI-Fp1" class="n b"><rect x="12" y="40" width="25" height="24" rx="4"/><text x="24.5" y="56">Fp1</text></g>
<g id="VI-Fp2" class="n b"><rect x="61" y="40" width="25" height="24" rx="4"/><text x="73.5" y="56">Fp2</text></g>
<g id="VI-F3" class="n o"><rect x="111" y="40" width="25" height="24" rx="4"/><text x="123.5" y="56">F3</text></g>
<g id="VI-F7" class="n o"><rect x="161" y="40" width="25" height="24" rx="4"/><text x="173.5" y="56">F7</text></g>
<g id="VI-FC5" class="n o"><rect x="210" y="40" width="25" height="24" rx="4"/><text x="222.5" y="56">FC5</text></g>
<g id="VI-F4" class="n o"><rect x="61" y="90" width="25" height="24" rx="4"/><text x="73.5" y="106">F4</text></g>
<g id="VI-F8" class="n o"><rect x="111" y="90" width="25" height="24" rx="4"/><text x="123.5" y="106">F8</text></g>
<g id="VI-FC6" class="n o"><rect x="161" y="90" width="25" height="24" rx="4"/><text x="173.5" y="106">FC6</text></g>
</g>
<g id="VI-C">
<rect class="bC" x="264" y="4" width="187" height="117" rx="12"/><text class="sl it" x="434" y="24">C</text>
<g class="e" id="VI-C-edges">
<path class="eb" d="M283.5 35V20Q283.5 15 288.5 15H377.5Q382.5 15 382.5 20V35"/>
<path class="eb" d="M283.5 35V28Q283.5 23 288.5 23H327.5Q332.5 23 332.5 28V35"/>
<path class="eb" d="M283.5 59V91Q283.5 96 288.5 96H320"/>
<path class="eg" d="M332.5 84V72Q332.5 67 337.5 67H426.5Q431.5 67 431.5 72V84"/>
<path class="eg" d="M332.5 84V78Q332.5 73 337.5 73H377.5Q382.5 73 382.5 78V84"/>
</g>
<g id="VI-Fz" class="n b"><rect x="271" y="35" width="25" height="24" rx="4"/><text x="283.5" y="51">Fz</text></g>
<g id="VI-FC1" class="n g"><rect x="320" y="35" width="25" height="24" rx="4"/><text x="332.5" y="51">FC1</text></g>
<g id="VI-FC2" class="n g"><rect x="370" y="35" width="25" height="24" rx="4"/><text x="382.5" y="51">FC2</text></g>
<g id="VI-Cz" class="n g"><rect x="320" y="84" width="25" height="24" rx="4"/><text x="332.5" y="100">Cz</text></g>
<g id="VI-C3" class="n g"><rect x="370" y="84" width="25" height="24" rx="4"/><text x="382.5" y="100">C3</text></g>
<g id="VI-C4" class="n g"><rect x="419" y="84" width="25" height="24" rx="4"/><text x="431.5" y="100">C4</text></g>
</g>
<g id="VI-B">
<rect class="bB" x="7" y="141" width="124" height="116" rx="12"/><text class="sl" x="118" y="163">B</text>
<g class="e" id="VI-B-edges"><path class="ep2" d="M53 178H77"/><path class="eo2" d="M53 221H77"/></g>
<g id="VI-O1" class="n p"><rect x="28" y="166" width="25" height="24" rx="4"/><text x="40.5" y="182">O1</text></g>
<g id="VI-O2" class="n p"><rect x="77" y="166" width="25" height="24" rx="4"/><text x="89.5" y="182">O2</text></g>
<g id="VI-A1" class="n o"><rect x="28" y="209" width="25" height="24" rx="4"/><text x="40.5" y="225">A1</text></g>
<g id="VI-A2" class="n o"><rect x="77" y="209" width="25" height="24" rx="4"/><text x="89.5" y="225">A2</text></g>
<g id="VI-legend"><rect class="ng" x="23" y="269" width="92" height="30" rx="6"/><text class="nl" x="40" y="291">-:</text><text class="nt" x="59" y="291">Negate</text></g>
</g>
<g id="VI-D">
<rect class="bD" x="153" y="141" width="298" height="160" rx="15"/><text class="sl" x="438" y="162">D</text>
<g class="e" id="VI-D-edges">
<path class="er" d="M268.5 171V158Q268.5 153 273.5 153H362.5Q367.5 153 367.5 158V171"/>
<path class="er" d="M268.5 171V164Q268.5 159 273.5 159H312.5Q317.5 159 317.5 164V171"/>
<path class="er" d="M256 183H183.5Q178.5 183 178.5 188V202"/>
<path class="er" d="M281 183H288Q293 183 293 188V228Q293 233 288 233H281"/>
<path class="er" d="M281 183H293Q298 183 298 188V278Q298 283 293 283H281"/>
<path class="er" d="M317.5 195V221"/><path class="er" d="M191 214H216"/><path class="er" d="M178.5 226V252"/><path class="er" d="M191 264H216"/>
<path class="ep" d="M405 183H380"/><path class="ep" d="M368 195L390 221"/><path class="ep" d="M417 195L395 221"/><path class="ep" d="M390 245L369 271"/><path class="ep" d="M395 245L416 271"/>
<path class="eo2" d="M380 283H405"/>
<text class="nl" x="188" y="245">-</text>
</g>
<g id="VI-Pz" class="n r"><rect x="256" y="171" width="25" height="24" rx="4"/><text x="268.5" y="187">Pz</text></g>
<g id="VI-P4" class="n r"><rect x="305" y="171" width="25" height="24" rx="4"/><text x="317.5" y="187">P4</text></g>
<g id="VI-PO4" class="n p"><rect x="355" y="171" width="25" height="24" rx="4"/><text x="367.5" y="187">PO4</text></g>
<g id="VI-PO3" class="n p"><rect x="405" y="171" width="25" height="24" rx="4"/><text x="417.5" y="187">PO3</text></g>
<g id="VI-CP2" class="n r"><rect x="166" y="202" width="25" height="24" rx="4"/><text x="178.5" y="218">CP2</text></g>
<g id="VI-T4" class="n o"><rect x="216" y="202" width="25" height="24" rx="4"/><text x="228.5" y="218">T4</text></g>
<g id="VI-CP5" class="n o"><rect x="256" y="221" width="25" height="24" rx="4"/><text x="268.5" y="237">CP5</text></g>
<g id="VI-P3" class="n r"><rect x="305" y="221" width="25" height="24" rx="4"/><text x="317.5" y="237">P3</text></g>
<g id="VI-Oz" class="n p"><rect x="380" y="221" width="25" height="24" rx="4"/><text x="392.5" y="237">Oz</text></g>
<g id="VI-CP1" class="n r"><rect x="166" y="252" width="25" height="24" rx="4"/><text x="178.5" y="268">CP1</text></g>
<g id="VI-T3" class="n o"><rect x="216" y="252" width="25" height="24" rx="4"/><text x="228.5" y="268">T3</text></g>
<g id="VI-CP6" class="n o"><rect x="256" y="271" width="25" height="24" rx="4"/><text x="268.5" y="287">CP6</text></g>
<g id="VI-T5" class="n o"><rect x="355" y="271" width="25" height="24" rx="4"/><text x="367.5" y="287">T5</text></g>
<g id="VI-T6" class="n o"><rect x="405" y="271" width="25" height="24" rx="4"/><text x="417.5" y="287">T6</text></g>
</g>
</g>

<!-- ================= PANEL VII ================= -->
<g id="panel-VII" transform="translate(0,695)">
<g id="VII-A">
<rect class="bA" x="7" y="5" width="235" height="115" rx="12"/><text class="sl it" x="226" y="20">A</text>
<g class="e" id="VII-A-edges">
<path class="eb" d="M24.5 40V34Q24.5 29 29.5 29H118.5Q123.5 29 123.5 34V40"/>
<path class="eb" d="M37 52H61"/><path class="eb" d="M73.5 64V90"/>
<path class="eb" d="M73.5 64V72Q73.5 77 78.5 77H118.5Q123.5 77 123.5 82V90"/>
<path class="eo" d="M186 52H210"/><path class="eo" d="M136 102H161"/>
</g>
<g id="VII-Fp1" class="n b"><rect x="12" y="40" width="25" height="24" rx="4"/><text x="24.5" y="56">Fp1</text></g>
<g id="VII-Fp2" class="n b"><rect x="61" y="40" width="25" height="24" rx="4"/><text x="73.5" y="56">Fp2</text></g>
<g id="VII-F3" class="n o"><rect x="111" y="40" width="25" height="24" rx="4"/><text x="123.5" y="56">F3</text></g>
<g id="VII-F7" class="n o"><rect x="161" y="40" width="25" height="24" rx="4"/><text x="173.5" y="56">F7</text></g>
<g id="VII-FC5" class="n o"><rect x="210" y="40" width="25" height="24" rx="4"/><text x="222.5" y="56">FC5</text></g>
<g id="VII-F4" class="n o"><rect x="61" y="90" width="25" height="24" rx="4"/><text x="73.5" y="106">F4</text></g>
<g id="VII-F8" class="n o"><rect x="111" y="90" width="25" height="24" rx="4"/><text x="123.5" y="106">F8</text></g>
<g id="VII-FC6" class="n o"><rect x="161" y="90" width="25" height="24" rx="4"/><text x="173.5" y="106">FC6</text></g>
</g>
<g id="VII-C">
<rect class="bC" x="265" y="5" width="187" height="115" rx="12"/><text class="sl it" x="434" y="24">C</text>
<g class="e" id="VII-C-edges">
<path class="eb" d="M283.5 35V20Q283.5 15 288.5 15H377.5Q382.5 15 382.5 20V35"/>
<path class="eb" d="M283.5 35V28Q283.5 23 288.5 23H327.5Q332.5 23 332.5 28V35"/>
<path class="eb" d="M283.5 59V91Q283.5 96 288.5 96H320"/>
<path class="eg" d="M332.5 84V72Q332.5 67 337.5 67H426.5Q431.5 67 431.5 72V84"/>
<path class="eg" d="M332.5 84V78Q332.5 73 337.5 73H377.5Q382.5 73 382.5 78V84"/>
</g>
<g id="VII-Fz" class="n b"><rect x="271" y="35" width="25" height="24" rx="4"/><text x="283.5" y="51">Fz</text></g>
<g id="VII-FC1" class="n g"><rect x="320" y="35" width="25" height="24" rx="4"/><text x="332.5" y="51">FC1</text></g>
<g id="VII-FC2" class="n g"><rect x="370" y="35" width="25" height="24" rx="4"/><text x="382.5" y="51">FC2</text></g>
<g id="VII-Cz" class="n g"><rect x="320" y="84" width="25" height="24" rx="4"/><text x="332.5" y="100">Cz</text></g>
<g id="VII-C3" class="n g"><rect x="370" y="84" width="25" height="24" rx="4"/><text x="382.5" y="100">C3</text></g>
<g id="VII-C4" class="n g"><rect x="419" y="84" width="25" height="24" rx="4"/><text x="431.5" y="100">C4</text></g>
</g>
<g id="VII-B">
<rect class="bB" x="7" y="140" width="124" height="112" rx="12"/><text class="sl" x="118" y="163">B</text>
<g class="e" id="VII-B-edges"><path class="ep2" d="M53 178H77"/><path class="eo2" d="M53 221H77"/></g>
<g id="VII-O1" class="n p"><rect x="28" y="166" width="25" height="24" rx="4"/><text x="40.5" y="182">O1</text></g>
<g id="VII-O2" class="n p"><rect x="77" y="166" width="25" height="24" rx="4"/><text x="89.5" y="182">O2</text></g>
<g id="VII-A1" class="n o"><rect x="28" y="209" width="25" height="24" rx="4"/><text x="40.5" y="225">A1</text></g>
<g id="VII-A2" class="n o"><rect x="77" y="209" width="25" height="24" rx="4"/><text x="89.5" y="225">A2</text></g>
<g id="VII-legend"><rect class="ng" x="23" y="269" width="92" height="30" rx="6"/><text class="nl" x="40" y="291">-:</text><text class="nt" x="59" y="291">Negate</text></g>
</g>
<g id="VII-D">
<rect class="bD" x="153" y="140" width="297" height="160" rx="15"/><text class="sl" x="438" y="162">D</text>
<g class="e" id="VII-D-edges">
<path class="er" d="M268.5 171V158Q268.5 153 273.5 153H362.5Q367.5 153 367.5 158V171"/>
<path class="er" d="M268.5 171V164Q268.5 159 273.5 159H312.5Q317.5 159 317.5 164V171"/>
<path class="er" d="M256 183H183.5Q178.5 183 178.5 188V202"/>
<path class="er" d="M281 183H288Q293 183 293 188V228Q293 233 288 233H281"/>
<path class="er" d="M281 183H293Q298 183 298 188V278Q298 283 293 283H281"/>
<path class="er" d="M317.5 195V221"/><path class="er" d="M191 214H216"/><path class="er" d="M178.5 226V252"/><path class="er" d="M191 264H216"/>
<path class="ep" d="M380 183H405"/><path class="ep" d="M368 195L390 221"/><path class="ep" d="M417 195L395 221"/><path class="ep" d="M390 245L369 271"/><path class="ep" d="M395 245L416 271"/>
<path class="eo2" d="M380 283H405"/>
<text class="nl" x="188" y="245">-</text>
</g>
<g id="VII-Pz" class="n r"><rect x="256" y="171" width="25" height="24" rx="4"/><text x="268.5" y="187">Pz</text></g>
<g id="VII-P4" class="n r"><rect x="305" y="171" width="25" height="24" rx="4"/><text x="317.5" y="187">P4</text></g>
<g id="VII-PO4" class="n p"><rect x="355" y="171" width="25" height="24" rx="4"/><text x="367.5" y="187">PO4</text></g>
<g id="VII-PO3" class="n p"><rect x="405" y="171" width="25" height="24" rx="4"/><text x="417.5" y="187">PO3</text></g>
<g id="VII-CP2" class="n r"><rect x="166" y="202" width="25" height="24" rx="4"/><text x="178.5" y="218">CP2</text></g>
<g id="VII-T4" class="n o"><rect x="216" y="202" width="25" height="24" rx="4"/><text x="228.5" y="218">T4</text></g>
<g id="VII-CP5" class="n o"><rect x="256" y="221" width="25" height="24" rx="4"/><text x="268.5" y="237">CP5</text></g>
<g id="VII-P3" class="n r"><rect x="305" y="221" width="25" height="24" rx="4"/><text x="317.5" y="237">P3</text></g>
<g id="VII-Oz" class="n p"><rect x="380" y="221" width="25" height="24" rx="4"/><text x="392.5" y="237">Oz</text></g>
<g id="VII-CP1" class="n r"><rect x="166" y="252" width="25" height="24" rx="4"/><text x="178.5" y="268">CP1</text></g>
<g id="VII-T3" class="n o"><rect x="216" y="252" width="25" height="24" rx="4"/><text x="228.5" y="268">T3</text></g>
<g id="VII-CP6" class="n o"><rect x="256" y="271" width="25" height="24" rx="4"/><text x="268.5" y="287">CP6</text></g>
<g id="VII-T5" class="n o"><rect x="355" y="271" width="25" height="24" rx="4"/><text x="367.5" y="287">T5</text></g>
<g id="VII-T6" class="n o"><rect x="405" y="271" width="25" height="24" rx="4"/><text x="417.5" y="287">T6</text></g>
</g>
</g>

<!-- ================= PANEL VIII ================= -->
<g id="panel-VIII" transform="translate(460,695)">
<g id="VIII-A">
<rect class="bA" x="7" y="5" width="235" height="115" rx="12"/><text class="sl it" x="226" y="20">A</text>
<g class="e" id="VIII-A-edges">
<path class="eb" d="M24.5 40V34Q24.5 29 29.5 29H118.5Q123.5 29 123.5 34V40"/>
<path class="eb" d="M37 52H61"/><path class="eb" d="M73.5 64V90"/>
<path class="eb" d="M73.5 64V72Q73.5 77 78.5 77H118.5Q123.5 77 123.5 82V90"/>
<path class="eo" d="M186 52H210"/><path class="eo" d="M136 102H161"/>
</g>
<g id="VIII-Fp1" class="n b"><rect x="12" y="40" width="25" height="24" rx="4"/><text x="24.5" y="56">Fp1</text></g>
<g id="VIII-Fp2" class="n b"><rect x="61" y="40" width="25" height="24" rx="4"/><text x="73.5" y="56">Fp2</text></g>
<g id="VIII-F3" class="n o"><rect x="111" y="40" width="25" height="24" rx="4"/><text x="123.5" y="56">F3</text></g>
<g id="VIII-F7" class="n o"><rect x="161" y="40" width="25" height="24" rx="4"/><text x="173.5" y="56">F7</text></g>
<g id="VIII-FC5" class="n o"><rect x="210" y="40" width="25" height="24" rx="4"/><text x="222.5" y="56">FC5</text></g>
<g id="VIII-F4" class="n o"><rect x="61" y="90" width="25" height="24" rx="4"/><text x="73.5" y="106">F4</text></g>
<g id="VIII-F8" class="n o"><rect x="111" y="90" width="25" height="24" rx="4"/><text x="123.5" y="106">F8</text></g>
<g id="VIII-FC6" class="n o"><rect x="161" y="90" width="25" height="24" rx="4"/><text x="173.5" y="106">FC6</text></g>
</g>
<g id="VIII-C">
<rect class="bC" x="265" y="5" width="185" height="115" rx="12"/><text class="sl it" x="434" y="24">C</text>
<g class="e" id="VIII-C-edges">
<path class="eb" d="M283.5 35V20Q283.5 15 288.5 15H377.5Q382.5 15 382.5 20V35"/>
<path class="eb" d="M283.5 35V28Q283.5 23 288.5 23H327.5Q332.5 23 332.5 28V35"/>
<path class="eb" d="M283.5 59V91Q283.5 96 288.5 96H320"/>
<path class="eg" d="M332.5 84V72Q332.5 67 337.5 67H426.5Q431.5 67 431.5 72V84"/>
<path class="eg" d="M332.5 84V78Q332.5 73 337.5 73H377.5Q382.5 73 382.5 78V84"/>
</g>
<g id="VIII-Fz" class="n b"><rect x="271" y="35" width="25" height="24" rx="4"/><text x="283.5" y="51">Fz</text></g>
<g id="VIII-FC1" class="n g"><rect x="320" y="35" width="25" height="24" rx="4"/><text x="332.5" y="51">FC1</text></g>
<g id="VIII-FC2" class="n g"><rect x="370" y="35" width="25" height="24" rx="4"/><text x="382.5" y="51">FC2</text></g>
<g id="VIII-Cz" class="n g"><rect x="320" y="84" width="25" height="24" rx="4"/><text x="332.5" y="100">Cz</text></g>
<g id="VIII-C3" class="n g"><rect x="370" y="84" width="25" height="24" rx="4"/><text x="382.5" y="100">C3</text></g>
<g id="VIII-C4" class="n g"><rect x="419" y="84" width="25" height="24" rx="4"/><text x="431.5" y="100">C4</text></g>
</g>
<g id="VIII-B">
<rect class="bB" x="7" y="140" width="123" height="115" rx="12"/><text class="sl" x="118" y="163">B</text>
<g class="e" id="VIII-B-edges"><path class="ep2" d="M53 178H77"/><path class="eo2" d="M53 221H77"/></g>
<g id="VIII-O1" class="n p"><rect x="28" y="166" width="25" height="24" rx="4"/><text x="40.5" y="182">O1</text></g>
<g id="VIII-O2" class="n p"><rect x="77" y="166" width="25" height="24" rx="4"/><text x="89.5" y="182">O2</text></g>
<g id="VIII-A1" class="n o"><rect x="28" y="209" width="25" height="24" rx="4"/><text x="40.5" y="225">A1</text></g>
<g id="VIII-A2" class="n o"><rect x="77" y="209" width="25" height="24" rx="4"/><text x="89.5" y="225">A2</text></g>
<g id="VIII-legend"><rect class="ng" x="23" y="269" width="92" height="30" rx="6"/><text class="nl" x="40" y="291">-:</text><text class="nt" x="59" y="291">Negate</text></g>
</g>
<g id="VIII-D">
<rect class="bD" x="153" y="140" width="297" height="160" rx="15"/><text class="sl" x="438" y="162">D</text>
<g class="e" id="VIII-D-edges">
<path class="er" d="M268.5 171V158Q268.5 153 273.5 153H362.5Q367.5 153 367.5 158V171"/>
<path class="er" d="M268.5 171V164Q268.5 159 273.5 159H312.5Q317.5 159 317.5 164V171"/>
<path class="er" d="M256 183H183.5Q178.5 183 178.5 188V202"/>
<path class="er" d="M281 183H288Q293 183 293 188V228Q293 233 288 233H281"/>
<path class="er" d="M281 183H293Q298 183 298 188V278Q298 283 293 283H281"/>
<path class="er" d="M317.5 195V221"/><path class="er" d="M191 214H216"/><path class="er" d="M178.5 226V252"/><path class="er" d="M191 264H216"/>
<path class="ep" d="M405 183H380"/><path class="ep" d="M368 195L390 221"/><path class="ep" d="M417 195L395 221"/><path class="ep" d="M390 245L369 271"/><path class="ep" d="M395 245L416 271"/>
<path class="eo2" d="M380 283H405"/>
<text class="nl" x="188" y="245">-</text>
</g>
<g id="VIII-Pz" class="n r"><rect x="256" y="171" width="25" height="24" rx="4"/><text x="268.5" y="187">Pz</text></g>
<g id="VIII-P4" class="n r"><rect x="305" y="171" width="25" height="24" rx="4"/><text x="317.5" y="187">P4</text></g>
<g id="VIII-PO4" class="n p"><rect x="355" y="171" width="25" height="24" rx="4"/><text x="367.5" y="187">PO4</text></g>
<g id="VIII-PO3" class="n p"><rect x="405" y="171" width="25" height="24" rx="4"/><text x="417.5" y="187">PO3</text></g>
<g id="VIII-CP2" class="n r"><rect x="166" y="202" width="25" height="24" rx="4"/><text x="178.5" y="218">CP2</text></g>
<g id="VIII-T4" class="n o"><rect x="216" y="202" width="25" height="24" rx="4"/><text x="228.5" y="218">T4</text></g>
<g id="VIII-CP5" class="n o"><rect x="256" y="221" width="25" height="24" rx="4"/><text x="268.5" y="237">CP5</text></g>
<g id="VIII-P3" class="n r"><rect x="305" y="221" width="25" height="24" rx="4"/><text x="317.5" y="237">P3</text></g>
<g id="VIII-Oz" class="n p"><rect x="380" y="221" width="25" height="24" rx="4"/><text x="392.5" y="237">Oz</text></g>
<g id="VIII-CP1" class="n r"><rect x="166" y="252" width="25" height="24" rx="4"/><text x="178.5" y="268">CP1</text></g>
<g id="VIII-T3" class="n o"><rect x="216" y="252" width="25" height="24" rx="4"/><text x="228.5" y="268">T3</text></g>
<g id="VIII-CP6" class="n o"><rect x="256" y="271" width="25" height="24" rx="4"/><text x="268.5" y="287">CP6</text></g>
<g id="VIII-T5" class="n o"><rect x="355" y="271" width="25" height="24" rx="4"/><text x="367.5" y="287">T5</text></g>
<g id="VIII-T6" class="n o"><rect x="405" y="271" width="25" height="24" rx="4"/><text x="417.5" y="287">T6</text></g>
</g>
</g>

<!-- ================= PANEL IX ================= -->
<g id="panel-IX" transform="translate(919,695)">
<g id="IX-A">
<rect class="bA" x="6" y="5" width="235" height="115" rx="12"/><text class="sl it" x="226" y="20">A</text>
<g class="e" id="IX-A-edges">
<path class="eb" d="M24.5 40V34Q24.5 29 29.5 29H118.5Q123.5 29 123.5 34V40"/>
<path class="eb" d="M37 52H61"/><path class="eb" d="M73.5 64V90"/>
<path class="eb" d="M73.5 64V72Q73.5 77 78.5 77H118.5Q123.5 77 123.5 82V90"/>
<path class="eo" d="M186 52H210"/><path class="eo" d="M136 102H161"/>
</g>
<g id="IX-Fp1" class="n b"><rect x="12" y="40" width="25" height="24" rx="4"/><text x="24.5" y="56">Fp1</text></g>
<g id="IX-Fp2" class="n b"><rect x="61" y="40" width="25" height="24" rx="4"/><text x="73.5" y="56">Fp2</text></g>
<g id="IX-F3" class="n o"><rect x="111" y="40" width="25" height="24" rx="4"/><text x="123.5" y="56">F3</text></g>
<g id="IX-F7" class="n o"><rect x="161" y="40" width="25" height="24" rx="4"/><text x="173.5" y="56">F7</text></g>
<g id="IX-FC5" class="n o"><rect x="210" y="40" width="25" height="24" rx="4"/><text x="222.5" y="56">FC5</text></g>
<g id="IX-F4" class="n o"><rect x="61" y="90" width="25" height="24" rx="4"/><text x="73.5" y="106">F4</text></g>
<g id="IX-F8" class="n o"><rect x="111" y="90" width="25" height="24" rx="4"/><text x="123.5" y="106">F8</text></g>
<g id="IX-FC6" class="n o"><rect x="161" y="90" width="25" height="24" rx="4"/><text x="173.5" y="106">FC6</text></g>
</g>
<g id="IX-C">
<rect class="bC" x="265" y="5" width="185" height="115" rx="12"/><text class="sl it" x="434" y="24">C</text>
<g class="e" id="IX-C-edges">
<path class="eb" d="M283.5 35V20Q283.5 15 288.5 15H377.5Q382.5 15 382.5 20V35"/>
<path class="eb" d="M283.5 35V28Q283.5 23 288.5 23H327.5Q332.5 23 332.5 28V35"/>
<path class="eb" d="M283.5 59V91Q283.5 96 288.5 96H320"/>
<path class="eg" d="M332.5 84V72Q332.5 67 337.5 67H426.5Q431.5 67 431.5 72V84"/>
<path class="eg" d="M332.5 84V78Q332.5 73 337.5 73H377.5Q382.5 73 382.5 78V84"/>
</g>
<g id="IX-Fz" class="n b"><rect x="271" y="35" width="25" height="24" rx="4"/><text x="283.5" y="51">Fz</text></g>
<g id="IX-FC1" class="n g"><rect x="320" y="35" width="25" height="24" rx="4"/><text x="332.5" y="51">FC1</text></g>
<g id="IX-FC2" class="n g"><rect x="370" y="35" width="25" height="24" rx="4"/><text x="382.5" y="51">FC2</text></g>
<g id="IX-Cz" class="n g"><rect x="320" y="84" width="25" height="24" rx="4"/><text x="332.5" y="100">Cz</text></g>
<g id="IX-C3" class="n g"><rect x="370" y="84" width="25" height="24" rx="4"/><text x="382.5" y="100">C3</text></g>
<g id="IX-C4" class="n g"><rect x="419" y="84" width="25" height="24" rx="4"/><text x="431.5" y="100">C4</text></g>
</g>
<g id="IX-B">
<rect class="bB" x="7" y="140" width="124" height="115" rx="12"/><text class="sl" x="118" y="163">B</text>
<g class="e" id="IX-B-edges"><path class="ep2" d="M53 178H77"/><path class="eo2" d="M53 221H77"/></g>
<g id="IX-O1" class="n p"><rect x="28" y="166" width="25" height="24" rx="4"/><text x="40.5" y="182">O1</text></g>
<g id="IX-O2" class="n p"><rect x="77" y="166" width="25" height="24" rx="4"/><text x="89.5" y="182">O2</text></g>
<g id="IX-A1" class="n o"><rect x="28" y="209" width="25" height="24" rx="4"/><text x="40.5" y="225">A1</text></g>
<g id="IX-A2" class="n o"><rect x="77" y="209" width="25" height="24" rx="4"/><text x="89.5" y="225">A2</text></g>
<g id="IX-legend"><rect class="ng" x="23" y="269" width="92" height="30" rx="6"/><text class="nl" x="40" y="291">-:</text><text class="nt" x="59" y="291">Negate</text></g>
</g>
<g id="IX-D">
<rect class="bD" x="153" y="140" width="297" height="160" rx="15"/><text class="sl" x="438" y="162">D</text>
<g class="e" id="IX-D-edges">
<path class="er" d="M268.5 171V158Q268.5 153 273.5 153H362.5Q367.5 153 367.5 158V171"/>
<path class="er" d="M268.5 171V164Q268.5 159 273.5 159H312.5Q317.5 159 317.5 164V171"/>
<path class="er" d="M256 183H183.5Q178.5 183 178.5 188V202"/>
<path class="er" d="M281 183H288Q293 183 293 188V228Q293 233 288 233H281"/>
<path class="er" d="M281 183H293Q298 183 298 188V278Q298 283 293 283H281"/>
<path class="er" d="M317.5 195V221"/><path class="er" d="M191 214H216"/><path class="er" d="M178.5 226V252"/><path class="er" d="M191 264H216"/>
<path class="ep" d="M405 183H380"/><path class="ep" d="M368 195L390 221"/><path class="ep" d="M417 195L395 221"/><path class="ep" d="M390 245L369 271"/><path class="ep" d="M395 245L416 271"/>
<path class="eo2" d="M380 283H405"/>
<text class="nl" x="188" y="245">-</text>
</g>
<g id="IX-Pz" class="n r"><rect x="256" y="171" width="25" height="24" rx="4"/><text x="268.5" y="187">Pz</text></g>
<g id="IX-P4" class="n r"><rect x="305" y="171" width="25" height="24" rx="4"/><text x="317.5" y="187">P4</text></g>
<g id="IX-PO4" class="n p"><rect x="355" y="171" width="25" height="24" rx="4"/><text x="367.5" y="187">PO4</text></g>
<g id="IX-PO3" class="n p"><rect x="405" y="171" width="25" height="24" rx="4"/><text x="417.5" y="187">PO3</text></g>
<g id="IX-CP2" class="n r"><rect x="166" y="202" width="25" height="24" rx="4"/><text x="178.5" y="218">CP2</text></g>
<g id="IX-T4" class="n o"><rect x="216" y="202" width="25" height="24" rx="4"/><text x="228.5" y="218">T4</text></g>
<g id="IX-CP5" class="n o"><rect x="256" y="221" width="25" height="24" rx="4"/><text x="268.5" y="237">CP5</text></g>
<g id="IX-P3" class="n r"><rect x="305" y="221" width="25" height="24" rx="4"/><text x="317.5" y="237">P3</text></g>
<g id="IX-Oz" class="n p"><rect x="380" y="221" width="25" height="24" rx="4"/><text x="392.5" y="237">Oz</text></g>
<g id="IX-CP1" class="n r"><rect x="166" y="252" width="25" height="24" rx="4"/><text x="178.5" y="268">CP1</text></g>
<g id="IX-T3" class="n o"><rect x="216" y="252" width="25" height="24" rx="4"/><text x="228.5" y="268">T3</text></g>
<g id="IX-CP6" class="n o"><rect x="256" y="271" width="25" height="24" rx="4"/><text x="268.5" y="287">CP6</text></g>
<g id="IX-T5" class="n o"><rect x="355" y="271" width="25" height="24" rx="4"/><text x="367.5" y="287">T5</text></g>
<g id="IX-T6" class="n o"><rect x="405" y="271" width="25" height="24" rx="4"/><text x="417.5" y="287">T6</text></g>
</g>
</g>
</svg>
